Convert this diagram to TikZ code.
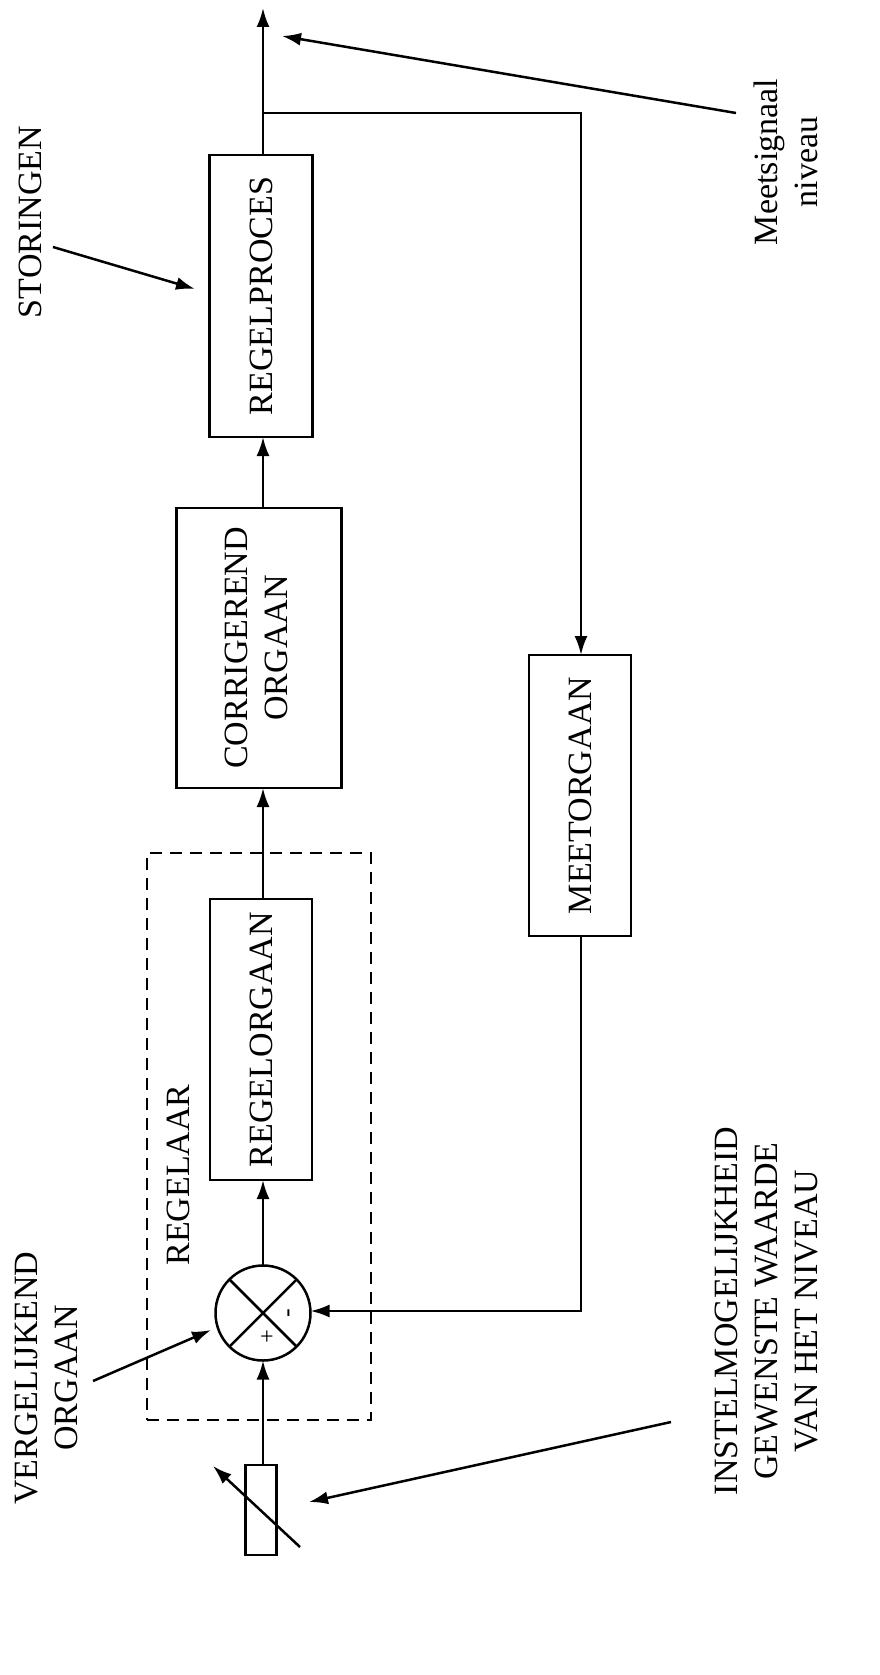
\documentclass[tikz,border=0pt]{standalone}
\usepackage{fontspec}
\usepackage{graphicx}
\setmainfont{Liberation Serif}
\usetikzlibrary{arrows.meta,shapes.geometric}
\begin{document}
\begin{tikzpicture}[x=1pt,y=-1pt,
  line width=2.5pt,
  every node/.style={inner sep=0pt, outer sep=0pt},
  blk/.style={draw, fill=white, line width=2.5pt, font=\fontsize{34}{42}\selectfont, align=center},
  arr/.style={-{Latex[length=19pt,width=13pt]}},
  lbl/.style={font=\fontsize{34}{40}\selectfont, align=center, rotate=90},
  dashbox/.style={draw, dash pattern=on 12pt off 8pt, line width=2pt}
]
\useasboundingbox[fill=white] (0,0) rectangle (880,1675);

% dashed controller box
\node[dashbox, minimum width=224pt, minimum height=567pt] (regelaar) at (259,1136.5) {};

% blocks
\node[blk, minimum width=103pt, minimum height=282pt] (proc) at (261,296) {\rotatebox{90}{REGELPROCES}};
\node[blk, minimum width=165pt, minimum height=280pt] (corr) at (259,648) {\rotatebox{90}{\begin{tabular}{@{}c@{}}CORRIGEREND\\[-2pt]ORGAAN\end{tabular}}};
\node[blk, minimum width=102pt, minimum height=281pt] (rego) at (261,1039.5) {\rotatebox{90}{REGELORGAAN}};
\node[blk, minimum width=102pt, minimum height=281pt] (meet) at (580,795.5) {\rotatebox{90}{MEETORGAAN}};
\node[draw, fill=white, circle, minimum size=95pt, line width=2.5pt] (cmp) at (263,1313) {};
\node[draw, fill=white, minimum width=31pt, minimum height=90pt, line width=2.5pt] (set) at (261,1510) {};

% comparator cross and signs
\draw (cmp.north west) -- (cmp.south east);
\draw (cmp.north east) -- (cmp.south west);
\node[font=\fontsize{24}{24}\selectfont] (plus) at (267,1338) {+};
\node[font=\fontsize{26}{26}\selectfont, rotate=90] (minus) at (291,1313) {-};

% coordinates
\coordinate (top) at (263,8);
\coordinate (br) at (581,113);
\coordinate (fb) at (581,1311);
\coordinate (potA) at (300,1547);
\coordinate (potB) at (213,1466);

% main signal path
\draw[arr] (set.north -| cmp.south) -- (cmp.south);
\draw[arr] (cmp.north) -- (cmp.north |- rego.south);
\draw[arr] (rego.north -| cmp.north) -- (cmp.north |- corr.south);
\draw[arr] (corr.north -| cmp.north) -- (cmp.north |- proc.south);
\draw[arr] (proc.north -| cmp.north) -- (top);

% feedback
\draw[arr] (cmp.north |- br) -- (br) -- (br |- meet.north);
\draw[arr] (meet.south -| br) -- (fb) -- (fb -| cmp.east);

% variable resistor arrow
\draw[arr] (potA) -- (potB);

% labels
\node[lbl] (stor) at (30,222) {STORINGEN};
\coordinate (storA) at (53,247);
\coordinate (storB) at (195,289);
\draw[arr] (storA) -- (storB);

\node[lbl] (msig) at (786,162) {Meetsignaal\\niveau};
\coordinate (msA) at (736,113);
\coordinate (msB) at (282,36);
\draw[arr] (msA) -- (msB);

\node[lbl] (regl) at (178,1175) {REGELAAR};

\node[lbl] (verg) at (46,1378) {VERGELIJKEND\\ORGAAN};
\coordinate (vgA) at (93,1381);
\coordinate (vgB) at (211,1330);
\draw[arr] (vgA) -- (vgB);

\node[lbl] (inst) at (766,1311) {INSTELMOGELIJKHEID\\GEWENSTE WAARDE\\VAN HET NIVEAU};
\coordinate (inA) at (671,1422);
\coordinate (inB) at (309,1502);
\draw[arr] (inA) -- (inB);
\end{tikzpicture}
\end{document}
